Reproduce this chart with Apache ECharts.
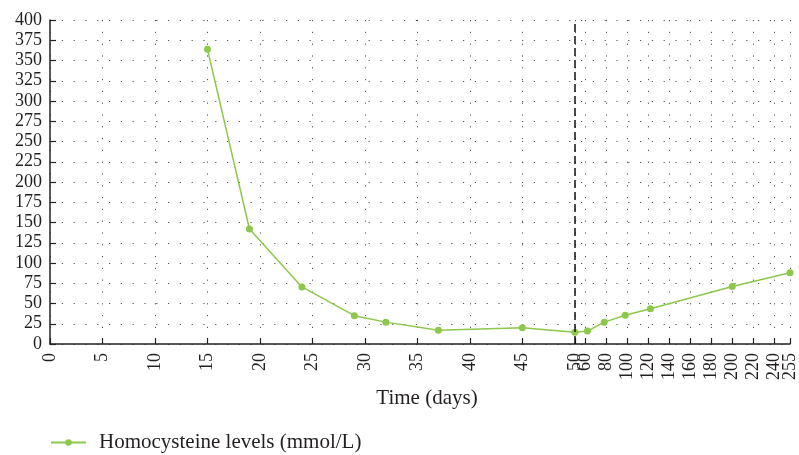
<!DOCTYPE html>
<html>
<head>
<meta charset="utf-8">
<script src="https://cdn.jsdelivr.net/npm/echarts@6/dist/echarts.min.js"></script>
<style>html,body{margin:0;padding:0;background:#fff;}#c{width:799px;height:455px;}</style>
</head>
<body>
<div id="c"></div>
<script>
// Data (days, homocysteine levels)
var days = [15, 19, 24, 29, 32, 37, 45, 50, 62, 78, 98, 122, 200, 255];
var levels = [364, 142, 70.5, 35, 27, 17, 20, 14.5, 16, 27, 35.5, 43.5, 71, 88];
var xTickDays = [0, 5, 10, 15, 20, 25, 30, 35, 40, 45, 50, 60, 80, 100, 120, 140, 160, 180, 200, 220, 240, 255];
var yTicks = [0, 25, 50, 75, 100, 125, 150, 175, 200, 225, 250, 275, 300, 325, 350, 375, 400];
var breakDay = 50;
var lastDay = 255;
var seriesName = 'Homocysteine levels (mmol/L)';

// Broken time axis: 0-50 at full scale, beyond 50 compressed 10x
function toU(d) { return d <= breakDay ? d : breakDay + (d - breakDay) / 10; }
function fromU(u) { return u <= breakDay ? u : Math.round(breakDay + (u - breakDay) * 10); }

var tickU = xTickDays.map(toU);
var labelU = xTickDays.filter(function (d) { return d !== lastDay; }).map(toU);
var pts = days.map(function (d, i) { return [toU(d), levels[i]]; });

var font = 'Liberation Serif';
var txt = '#231f20';
var dotted = { color: '#555', width: 1, type: [1.2, 10.6] };
var xLabelStyle = {
  rotate: 90, margin: 9,
  fontFamily: font, fontSize: 18, color: txt,
  formatter: function (v) { return String(fromU(v)); }
};

var chart = echarts.init(document.getElementById('c'));
chart.setOption({
  animation: false,
  backgroundColor: '#fff',
  grid: { left: 50, right: 9, top: 20, bottom: 111, containLabel: false },
  legend: {
    left: 45, top: 427,
    itemWidth: 35, itemHeight: 8, itemGap: 10,
    textStyle: { fontFamily: font, fontSize: 21, color: txt, padding: [0, 0, 0, 8] },
    data: [seriesName]
  },
  xAxis: [{
    type: 'value',
    position: 'bottom',
    min: 0, max: toU(lastDay),
    name: 'Time (days)',
    nameLocation: 'middle',
    nameGap: 40,
    nameTextStyle: { fontFamily: font, fontSize: 21, color: txt, padding: [0, 0, 0, 14] },
    axisLine: { show: true, onZero: false, lineStyle: { color: '#222', width: 1.5 } },
    axisTick: { show: true, inside: true, length: 6, customValues: tickU, lineStyle: { color: '#222', width: 1.2 } },
    axisLabel: Object.assign({ customValues: labelU, showMaxLabel: true, showMinLabel: true }, xLabelStyle),
    splitLine: { show: true, lineStyle: dotted }
  }, {
    type: 'value',
    position: 'bottom',
    offset: 0,
    min: 0, max: toU(lastDay),
    axisLine: { show: false, onZero: false },
    axisTick: { show: false },
    axisLabel: Object.assign({ customValues: [toU(lastDay)], showMaxLabel: true, showMinLabel: true }, xLabelStyle),
    splitLine: { show: false }
  }],
  yAxis: {
    type: 'value',
    min: yTicks[0], max: yTicks[yTicks.length - 1], interval: yTicks[1] - yTicks[0],
    axisLine: { show: true, lineStyle: { color: '#222', width: 1.5 } },
    axisTick: { show: true, inside: true, length: 6, lineStyle: { color: '#222', width: 1.2 } },
    axisLabel: { margin: 8, fontFamily: font, fontSize: 18, color: txt },
    splitLine: { show: true, lineStyle: dotted }
  },
  series: [{
    name: seriesName,
    type: 'line',
    xAxisIndex: 0,
    data: pts,
    symbol: 'circle',
    symbolSize: 7,
    itemStyle: { color: '#8cc84b' },
    lineStyle: { color: '#8cc84b', width: 1.5 },
    markLine: {
      silent: true,
      symbol: ['none', 'none'],
      label: { show: false },
      lineStyle: { color: '#111', type: [8, 4], width: 1.5 },
      data: [{ xAxis: toU(breakDay) }]
    }
  }]
});
</script>
</body>
</html>
